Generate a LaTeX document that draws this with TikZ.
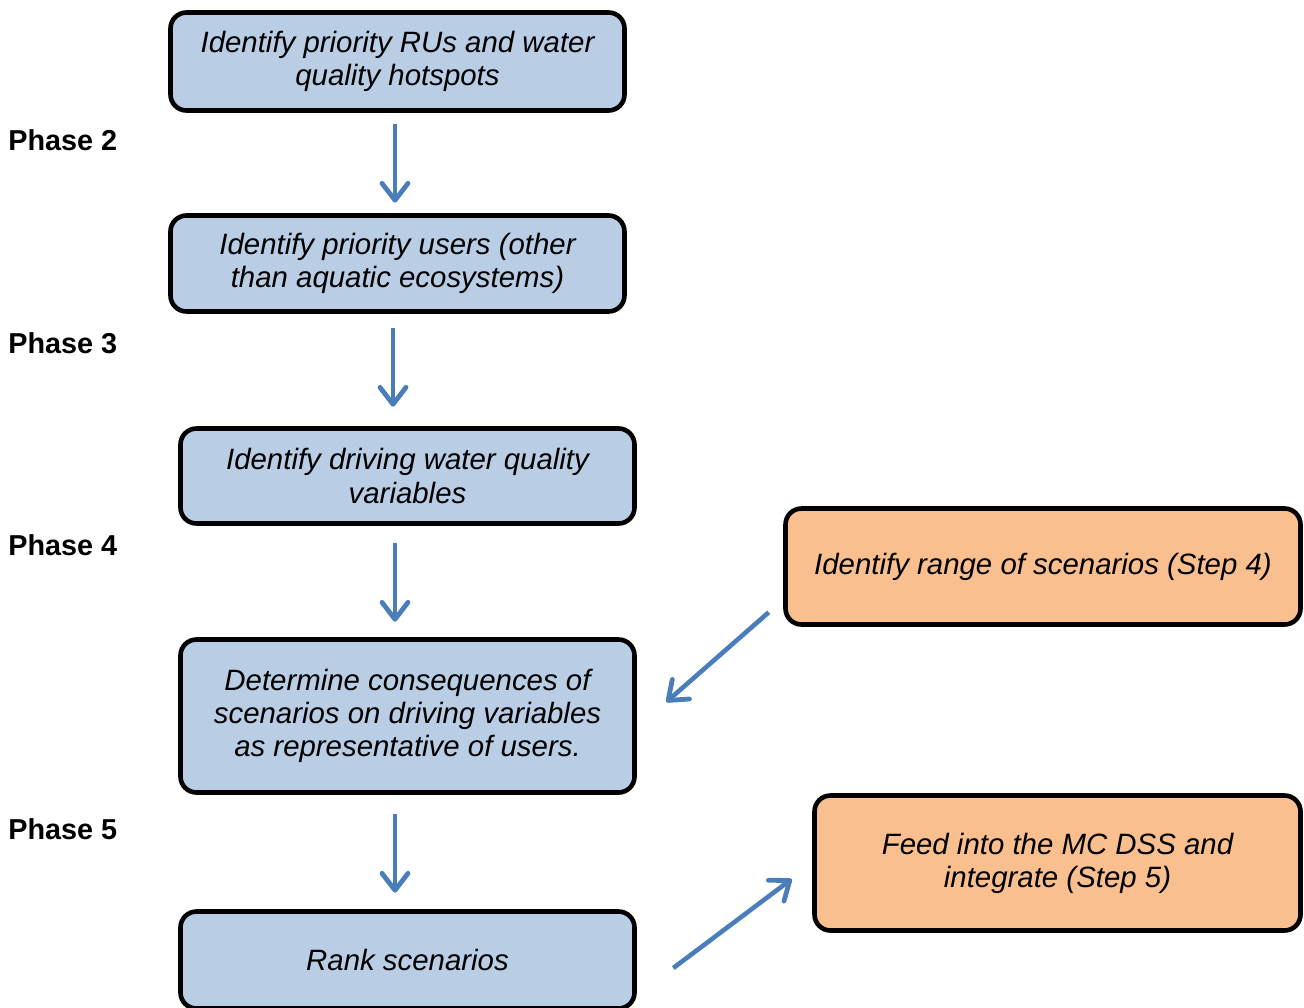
\documentclass[tikz,border=0pt]{standalone}
\usepackage{fontspec}
\setmainfont{Liberation Sans}
\usetikzlibrary{arrows.meta,calc}
\definecolor{boxblue}{HTML}{B9CDE5}
\definecolor{boxorange}{HTML}{F9BF8F}
\definecolor{arrblue}{HTML}{4A7EBB}
\begin{document}
\begin{tikzpicture}[x=0.5pt,y=-0.5pt,
  box/.style={draw=black, line width=2.3pt, rounded corners=8pt, align=center,
    inner sep=0pt, font=\fontsize{14.7}{16.6}\selectfont\itshape},
  bluebox/.style={box, fill=boxblue},
  orangebox/.style={box, fill=boxorange},
  phase/.style={anchor=west, inner sep=0pt, font=\fontsize{14.4}{16}\selectfont\bfseries},
  arr/.style={draw=arrblue, line width=2.3pt, -{Straight Barb[length=8.5pt,width=13pt,line width=2.4pt,round]}}
]
\useasboundingbox (0,0) rectangle (1304,1007);
\clip (0,0) rectangle (1304,1007);

\node[bluebox, minimum width=227pt, minimum height=49pt] (b1) at (397.5,61.5)
  {Identify priority RUs and water\\quality hotspots};
\node[bluebox, minimum width=227pt, minimum height=48pt] (b2) at (397.5,263.5)
  {Identify priority users (other\\than aquatic ecosystems)};
\node[bluebox, minimum width=227pt, minimum height=47.5pt] (b3) at (407.5,476)
  {Identify driving water quality\\variables};
\node[bluebox, minimum width=227pt, minimum height=76.5pt] (b4) at (407.5,716)
  {Determine consequences of\\scenarios on driving variables\\as representative of users.};
\node[bluebox, minimum width=227pt, minimum height=48.5pt] (b5) at (407.5,960)
  {Rank scenarios};
\node[orangebox, minimum width=257.5pt, minimum height=58pt] (o1) at (1043,566.5)
  {Identify range of scenarios (Step 4)};
\node[orangebox, minimum width=243pt, minimum height=67.5pt] (o2) at (1057.5,863)
  {Feed into the MC DSS and\\integrate (Step 5)};

\node[phase] (p2) at (8,140) {Phase 2};
\node[phase] (p3) at (8,343) {Phase 3};
\node[phase] (p4) at (8,545) {Phase 4};
\node[phase] (p5) at (8,829) {Phase 5};

\draw[arr] ($(b1.south)+(-2.5,11.5)$) -- ($(b2.north)+(-2.5,-10.5)$);
\draw[arr] ($(b2.south)+(-4.5,14.5)$) -- ($(b3.north)+(-14.5,-19.5)$);
\draw[arr] ($(b3.south)+(-12.5,17.5)$) -- ($(b4.north)+(-12.5,-15.5)$);
\draw[arr] ($(b4.south)+(-12.5,19.5)$) -- ($(b5.north)+(-12.5,-16.5)$);
\draw[arr] ($(o1.south west)+(-14.5,-14.5)$) -- ($(b4.east)+(29.5,-14)$);
\draw[arr] ($(b5.east)+(36.5,8)$) -- ($(o2.west)+(-20.5,16)$);
\end{tikzpicture}
\end{document}
